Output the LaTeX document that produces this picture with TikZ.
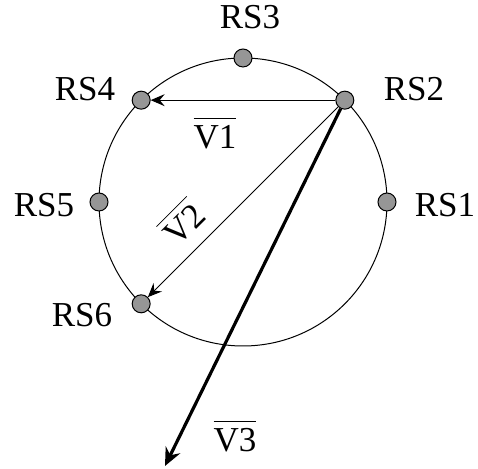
\documentclass[tikz,border=0pt]{standalone}
\usepackage{fontspec}
\setmainfont{Liberation Serif}
\usepackage{tikz}
\usetikzlibrary{calc,arrows.meta}
\definecolor{DotGray}{RGB}{150,150,150}
\newcommand{\vecname}[1]{$\overline{\mbox{\rule{0pt}{0.78em}#1}}$}

\begin{document}
\begin{tikzpicture}[x=0.5pt, y=-0.5pt,
    rsdot/.style={circle, draw=black, fill=DotGray, line width=0.5pt, minimum size=9pt, inner sep=0pt},
    rslabel/.style={font=\fontsize{17.5}{21}\selectfont, inner sep=0pt},
    vthin/.style={line width=0.5pt, -{Stealth[length=7pt, width=6pt, inset=2.5pt]}},
    vthick/.style={line width=1.6pt, -{Stealth[length=9pt, width=8pt, inset=3pt]}}]
    \useasboundingbox (0,0) rectangle (478,469);
    \coordinate (c) at (243,202);
    \draw[line width=0.5pt] (c) circle (144);
    \foreach \i/\a in {1/0,2/45,3/90,4/135,5/180,6/225} {
        \node[rsdot] (rs\i) at ($(c)+(-\a:144)$) {};
    }
    \node[rslabel] (l3) at (250,17) {RS3};
    \node[rslabel] (l4) at (85,89) {RS4};
    \node[rslabel] (l2) at (414,89) {RS2};
    \node[rslabel] (l5) at (44,205) {RS5};
    \node[rslabel] (l1) at (445,205) {RS1};
    \node[rslabel] (l6) at (82,315) {RS6};
    % vectors from RS2
    \coordinate (v3end) at (165,466);
    \draw[vthin] (rs2) -- (rs4);
    \draw[vthin] (rs2) -- (rs6);
    \draw[vthick] (rs2) -- (v3end);
    \node[rslabel] (v1) at (215,133) {\vecname{V1}};
    \node[rslabel, rotate=45] (v2) at (182,222) {\vecname{V2}};
    \node[rslabel] (v3) at (235,436) {\vecname{V3}};
\end{tikzpicture}
\end{document}
